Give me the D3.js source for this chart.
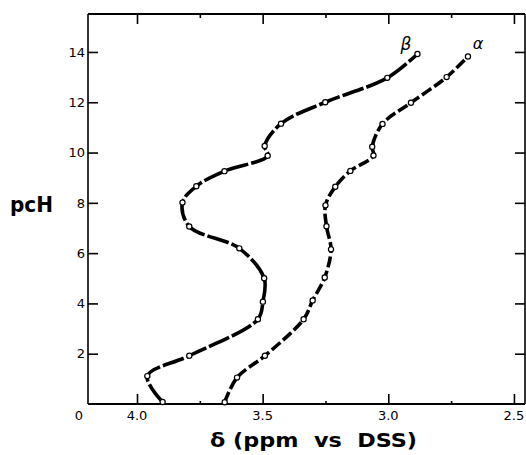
<!DOCTYPE html>
<html>
<head>
<meta charset="utf-8">
<script src="https://cdn.jsdelivr.net/npm/d3@7"></script>
<style>
body{margin:0;background:#fff;}
svg{display:block;}
text{font-family:"DejaVu Sans",sans-serif;fill:#000;}
</style>
</head>
<body>
<svg id="chart" width="526" height="455"></svg>
<script>
// pcH values and chemical shifts (ppm vs DSS)
const betaPcH   = [0.08, 1.11, 1.92, 3.37, 4.07, 5.0, 6.19, 7.06, 8.01, 8.66, 9.26, 9.87, 10.26, 11.15, 12.0, 12.97, 13.92];
const betaShift = [3.898, 3.959, 3.792, 3.519, 3.499, 3.494, 3.593, 3.792, 3.819, 3.764, 3.652, 3.480, 3.492, 3.427, 3.251, 3.004, 2.884];
const alphaPcH   = [0.07, 1.05, 1.92, 3.37, 4.12, 5.03, 6.15, 7.07, 7.90, 8.64, 9.27, 9.88, 10.23, 11.14, 11.98, 13.0, 13.82];
const alphaShift = [3.651, 3.602, 3.491, 3.337, 3.301, 3.253, 3.228, 3.246, 3.250, 3.211, 3.151, 3.059, 3.064, 3.023, 2.910, 2.768, 2.683];
const yTickValues = [2, 4, 6, 8, 10, 12, 14];
const xMajorTicks = [4.0, 3.5, 3.0, 2.5];
const xMinorTicks = [3.75, 3.25, 2.75];
const xTickLabels = ["4.0", "3.5", "3.0", "2.5"];
const seriesLabels = ["β", "α"];

const svg = d3.select("#chart");
const L = 88, R = 525, T = 14, B = 404;
const x = d3.scaleLinear().domain([4.195, 2.456]).range([L, R]);
const y = d3.scaleLinear().domain([0, 15.51]).range([B, T]);

// frame
svg.append("line").attr("x1", L).attr("x2", L).attr("y1", T).attr("y2", B).attr("stroke", "#000").attr("stroke-width", 1.6);
svg.append("line").attr("x1", R).attr("x2", R).attr("y1", T).attr("y2", B).attr("stroke", "#000").attr("stroke-width", 1.6);
svg.append("line").attr("x1", L).attr("x2", R).attr("y1", T).attr("y2", T).attr("stroke", "#000").attr("stroke-width", 2);
svg.append("line").attr("x1", L).attr("x2", R).attr("y1", B).attr("y2", B).attr("stroke", "#000").attr("stroke-width", 2);

// left axis ticks (inward) with labels
const yAxisL = d3.axisRight(y).tickValues(yTickValues).tickSize(10).tickFormat("");
const gl = svg.append("g").attr("transform", `translate(${L},0)`).call(yAxisL);
gl.select(".domain").remove();
gl.selectAll(".tick line").attr("stroke", "#000").attr("stroke-width", 1.6);
svg.selectAll(".ylab").data(yTickValues).enter().append("text")
  .attr("x", 85).attr("y", d => y(d)).attr("dy", "0.36em")
  .attr("text-anchor", "end").attr("font-size", 13).text(d => d);
svg.append("text").attr("x", 79).attr("y", 420).attr("text-anchor", "middle").attr("font-size", 13).text("0");

// right axis ticks (inward)
const yAxisR = d3.axisLeft(y).tickValues(yTickValues).tickSize(10).tickFormat("");
const gr = svg.append("g").attr("transform", `translate(${R},0)`).call(yAxisR);
gr.select(".domain").remove();
gr.selectAll(".tick line").attr("stroke", "#000").attr("stroke-width", 1.6);

// bottom/top ticks
function xTicks(vals, len, yPos, dir) {
  const ax = (dir > 0 ? d3.axisBottom(x) : d3.axisTop(x)).tickValues(vals).tickSize(len).tickFormat("");
  const g = svg.append("g").attr("transform", `translate(0,${yPos})`).call(ax);
  g.select(".domain").remove();
  g.selectAll(".tick line").attr("stroke", "#000").attr("stroke-width", 1.6);
}
xTicks(xMajorTicks, 10, B, -1);
xTicks(xMinorTicks, 3, B, -1);
xTicks(xMajorTicks, 10, T, 1);
xTicks(xMinorTicks, 4, T, 1);
svg.selectAll(".xlab").data(xMajorTicks).enter().append("text")
  .attr("x", d => x(d)).attr("y", 420).attr("text-anchor", "middle").attr("font-size", 13)
  .text((d, i) => xTickLabels[i]);

// curves
const line = d3.line().x(d => x(d[1])).y(d => y(d[0])).curve(d3.curveCatmullRom.alpha(0.5));
const beta = betaPcH.map((p, i) => [p, betaShift[i]]);
const alpha = alphaPcH.map((p, i) => [p, alphaShift[i]]);
svg.append("path").attr("d", line(beta)).attr("fill", "none").attr("stroke", "#000")
  .attr("stroke-width", 3.6).attr("stroke-dasharray", "22,3");
svg.append("path").attr("d", line(alpha)).attr("fill", "none").attr("stroke", "#000")
  .attr("stroke-width", 3.6).attr("stroke-dasharray", "11,3.5");
[beta, alpha].forEach(s => {
  svg.selectAll(null).data(s).enter().append("circle")
    .attr("cx", d => x(d[1])).attr("cy", d => y(d[0])).attr("r", 2.6)
    .attr("fill", "#fff").attr("stroke", "#000").attr("stroke-width", 1.2);
});

// series labels
svg.append("text").attr("x", 406).attr("y", 50).attr("text-anchor", "middle")
  .attr("font-size", 17).attr("font-style", "italic").text(seriesLabels[0]);
svg.append("text").attr("x", 478).attr("y", 49).attr("text-anchor", "middle")
  .attr("font-size", 16).attr("font-style", "italic").text(seriesLabels[1]);

// axis titles
svg.append("text").attr("x", 10).attr("y", 212).attr("font-size", 22).attr("font-weight", "bold")
  .attr("textLength", 43).attr("lengthAdjust", "spacingAndGlyphs").text("pcH");
svg.append("text").attr("x", 210).attr("y", 447).attr("font-size", 20).attr("font-weight", "bold")
  .style("white-space", "pre").attr("textLength", 207).attr("lengthAdjust", "spacingAndGlyphs")
  .text("δ (ppm  vs  DSS)");
</script>
</body>
</html>
